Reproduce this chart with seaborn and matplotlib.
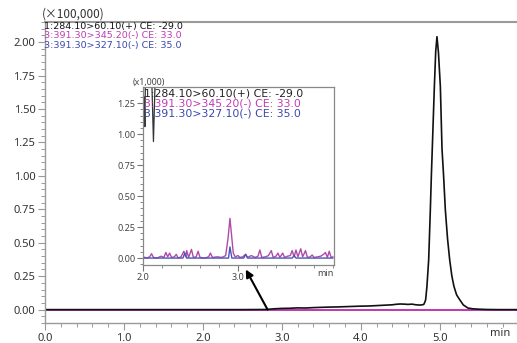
import matplotlib
matplotlib.use("Agg")
import matplotlib.pyplot as plt
from matplotlib.ticker import MultipleLocator, FixedLocator
import seaborn as sns

# ---- main chromatogram (intensity in units of 100,000) ----
main_time = [0.0, 0.5, 1.0, 1.5, 2.0, 2.5, 2.8, 2.9, 3.0, 3.1, 3.2, 3.3, 3.4, 3.5,
             3.6, 3.7, 3.8, 3.9, 4.0, 4.1, 4.2, 4.3, 4.4, 4.45, 4.5, 4.55, 4.6,
             4.65, 4.7, 4.75, 4.79, 4.80, 4.815, 4.823, 4.839, 4.861, 4.882,
             4.895, 4.915, 4.933, 4.95, 4.966, 4.985, 5.009, 5.03, 5.05, 5.072,
             5.10, 5.127, 5.155, 5.181, 5.215, 5.253, 5.30, 5.358, 5.42, 5.506,
             5.6, 5.75, 5.98]
main_black = [0.0, 0.0, 0.0, 0.0, 0.0, 0.0, 0.001, 0.006, 0.009, 0.010, 0.013,
              0.012, 0.015, 0.017, 0.019, 0.020, 0.022, 0.024, 0.026, 0.027,
              0.030, 0.033, 0.036, 0.040, 0.042, 0.041, 0.039, 0.041, 0.036,
              0.034, 0.037, 0.040, 0.060, 0.075, 0.174, 0.373, 0.746, 1.0, 1.35,
              1.667, 1.93, 2.04, 1.92, 1.667, 1.2, 1.0, 0.746, 0.53, 0.373,
              0.25, 0.174, 0.11, 0.075, 0.035, 0.012, 0.006, 0.003, 0.001, 0.0,
              0.0]
main_flat_time = [0.0, 5.98]
main_magenta = [0.0, 0.0]
main_blue = [0.0, 0.0]

# ---- zoomed view 2.0-4.0 min (intensity in units of 1,000) ----
zoom_black_time = [2.0, 2.006, 2.012, 2.02, 2.026, 2.09, 2.11, 2.13, 4.0]
zoom_black = [1.50, 1.06, 1.30, 1.06, 1.50, 1.50, 0.94, 1.50, 1.50]

zoom_mag_time = [2.00, 2.04, 2.07, 2.09, 2.11, 2.15, 2.19, 2.22, 2.24, 2.26,
                 2.28, 2.30, 2.33, 2.35, 2.37, 2.40, 2.43, 2.45, 2.46, 2.48,
                 2.51, 2.53, 2.56, 2.58, 2.60, 2.65, 2.69, 2.71, 2.73, 2.78,
                 2.83, 2.87, 2.895, 2.915, 2.93, 2.95, 2.97, 3.00, 3.02, 3.05,
                 3.08, 3.10, 3.14, 3.18, 3.21, 3.23, 3.25, 3.29, 3.32, 3.35,
                 3.37, 3.40, 3.42, 3.44, 3.47, 3.49, 3.52, 3.55, 3.57, 3.59,
                 3.61, 3.63, 3.66, 3.68, 3.71, 3.73, 3.76, 3.78, 3.80, 3.84,
                 3.87, 3.90, 3.92, 3.94, 3.96, 3.98, 4.00]
zoom_magenta = [0.01, 0.0, 0.01, 0.035, 0.005, 0.0, 0.015, 0.005, 0.045, 0.01,
                0.04, 0.005, 0.01, 0.03, 0.0, 0.01, 0.055, 0.01, 0.06, 0.005,
                0.07, 0.005, 0.01, 0.055, 0.005, 0.0, 0.01, 0.04, 0.005, 0.01,
                0.005, 0.02, 0.16, 0.32, 0.20, 0.04, 0.01, 0.02, 0.005, 0.01,
                0.03, 0.005, 0.02, 0.005, 0.015, 0.065, 0.005, 0.01, 0.02,
                0.06, 0.005, 0.015, 0.04, 0.005, 0.04, 0.005, 0.015, 0.02,
                0.06, 0.01, 0.065, 0.01, 0.075, 0.01, 0.06, 0.005, 0.01,
                0.025, 0.005, 0.01, 0.015, 0.03, 0.045, 0.005, 0.055, 0.005,
                0.01]

zoom_blue_time = [2.0, 2.20, 2.42, 2.44, 2.46, 2.70, 2.90, 2.915, 2.935, 3.06,
                  3.08, 3.10, 3.57, 3.59, 3.61, 4.0]
zoom_blue = [0.0, 0.0, 0.0, 0.04, 0.0, 0.0, 0.0, 0.09, 0.0, 0.0, 0.03, 0.0,
             0.0, 0.02, 0.0, 0.0]

trace_labels = ["1:284.10>60.10(+) CE: -29.0",
                "3:391.30>345.20(-) CE: 33.0",
                "3:391.30>327.10(-) CE: 35.0"]
trace_colors = ["#111111", "#c03cb4", "#3a47b0"]
main_xticks = [0.0, 1.0, 2.0, 3.0, 4.0, 5.0]
zoom_xticks = [2.0, 3.0]

sns.set_style("white")
plt.rcParams["font.family"] = ["Noto Sans", "DejaVu Sans"]

W, H = 517, 343
fig = plt.figure(figsize=(W / 100, H / 100), dpi=100)


def fx(px):
    return px / W


def fy(py):
    return 1 - py / H


spine_col = "#9a9a9a"
tick_col = "#333333"
label_font = ["DejaVu Sans"]

# ---------------- main axes ----------------
ax = fig.add_axes([fx(45), fy(323), fx(517) - fx(45), fy(22) - fy(323)])
sns.lineplot(x=main_flat_time, y=main_blue, ax=ax, color=trace_colors[2],
             lw=1.2, estimator=None)
sns.lineplot(x=main_flat_time, y=main_magenta, ax=ax, color=trace_colors[1],
             lw=1.4, estimator=None)
sns.lineplot(x=main_time, y=main_black, ax=ax, color=trace_colors[0],
             lw=1.2, estimator=None)
ax.set_xlim(0, 5.98)
ax.set_ylim(-0.1, 2.15)
ax.xaxis.set_major_locator(FixedLocator(main_xticks))
ax.xaxis.set_minor_locator(MultipleLocator(0.2))
ax.yaxis.set_major_locator(MultipleLocator(0.25))
ax.yaxis.set_minor_locator(MultipleLocator(0.05))
ax.set_xticklabels([f"{v:.1f}" for v in main_xticks])
ax.set_yticklabels([f"{v:.2f}" for v in ax.get_yticks()])
ax.tick_params(axis="both", which="major", length=5, width=0.8,
               color=spine_col, labelsize=8, labelcolor=tick_col, pad=2)
ax.tick_params(axis="both", which="minor", length=3, width=0.7,
               color=spine_col)
ax.tick_params(left=True, bottom=True, which="both")
for s in ["left", "bottom", "top"]:
    ax.spines[s].set_color(spine_col)
    ax.spines[s].set_linewidth(1.0)
ax.spines["top"].set_linewidth(1.5)
ax.spines["right"].set_visible(False)
ax.set_xlabel("")
ax.set_ylabel("")
ax.text(5.76, -0.14, "min", ha="center", va="top", fontsize=8,
        color=tick_col)

# arrow pointing from the baseline at ~2.8 min to the zoomed view
ax.annotate("", xy=(2.544, 0.30), xytext=(2.82, 0.0),
            arrowprops=dict(arrowstyle="-|>", color="black", lw=1.5,
                            mutation_scale=11, shrinkA=0, shrinkB=0))

# header of the main chart
fig.text(fx(42), fy(14), "(×100,000)", fontsize=8.5, color=tick_col,
         va="center", ha="left", family=["Noto Sans CJK JP", "DejaVu Sans"])
for i, (lab, col) in enumerate(zip(trace_labels, trace_colors)):
    fig.text(fx(44), fy(26.5 + 9.3 * i), lab, fontsize=6.8, color=col,
             va="center", ha="left", family=label_font)

# ---------------- inset axes ----------------
ins = fig.add_axes([fx(143), fy(265), fx(334) - fx(143), fy(87) - fy(265)])
ins.set_facecolor("white")
sns.lineplot(x=zoom_black_time, y=zoom_black, ax=ins, color="#333333",
             lw=0.9, estimator=None)
sns.lineplot(x=zoom_mag_time, y=zoom_magenta, ax=ins, color="#b04aa8",
             lw=1.0, estimator=None)
sns.lineplot(x=zoom_blue_time, y=zoom_blue, ax=ins, color="#4a55b8",
             lw=1.0, estimator=None)
ins.set_xlim(2.0, 4.01)
ins.set_ylim(-0.056, 1.38)
ins.xaxis.set_major_locator(FixedLocator(zoom_xticks))
ins.xaxis.set_minor_locator(MultipleLocator(0.2))
ins.yaxis.set_major_locator(MultipleLocator(0.25))
ins.yaxis.set_minor_locator(MultipleLocator(0.05))
ins.set_xticklabels([f"{v:.1f}" for v in zoom_xticks])
ins.set_yticklabels([f"{v:.2f}" for v in ins.get_yticks()])
ins.tick_params(axis="both", which="major", length=4, width=0.8,
                color="#777777", labelsize=6.5, labelcolor="#444444", pad=1.5)
ins.tick_params(axis="both", which="minor", length=2.5, width=0.6,
                color="#777777")
ins.tick_params(left=True, bottom=True, which="both")
for s in ins.spines.values():
    s.set_color("#888888")
    s.set_linewidth(0.9)
ins.set_xlabel("")
ins.set_ylabel("")
ins.text(3.92, -0.085, "min", ha="center", va="top", fontsize=6.5,
         color="#444444")

fig.text(fx(133), fy(82), "(x1,000)", fontsize=6.3, color="#444444",
         va="center", ha="left")
for i, (lab, col) in enumerate(zip(trace_labels, ["#222222", "#c03cb4",
                                                  "#3a47b0"])):
    fig.text(fx(144), fy(93 + 10.4 * i), lab, fontsize=7.8, color=col,
             va="center", ha="left", family=label_font)

fig.savefig("out.png", dpi=100)
